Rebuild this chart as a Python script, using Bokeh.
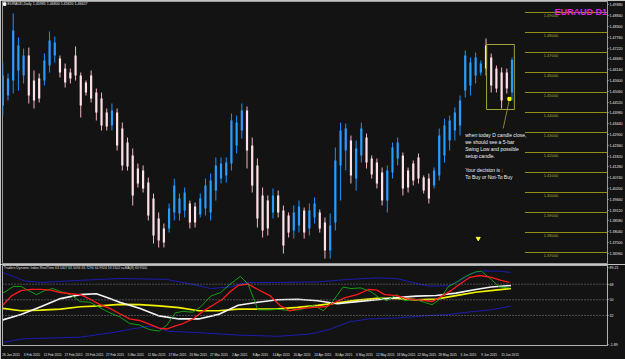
from bokeh.plotting import figure
from bokeh.models import Range1d, ColumnDataSource, FixedTicker, PrintfTickFormatter, Span, Label
from bokeh.layouts import column
from bokeh.embed import file_html
from bokeh.resources import INLINE
from bokeh.core.properties import value

BG = "#131313"
FONT = "Liberation Sans"

# ---------------- data (EURAUD daily) ----------------
opens = [1.4435, 1.4485, 1.4560, 1.4610, 1.4585, 1.4685, 1.4560, 1.4570, 1.4560, 1.4635,
         1.4685, 1.4670, 1.4620, 1.4600, 1.4685, 1.4585, 1.4550, 1.4585, 1.4500, 1.4470,
         1.4400, 1.4335, 1.4400, 1.4320, 1.4250, 1.4185, 1.4120, 1.4110, 1.4050, 1.3970,
         1.3870, 1.3820, 1.3820, 1.3900, 1.3895, 1.3910, 1.3945, 1.3930, 1.3890, 1.3920,
         1.3900, 1.4010, 1.4070, 1.4085, 1.4145, 1.4235, 1.4310, 1.4410, 1.4235, 1.4135,
         1.3985, 1.3960, 1.3900, 1.3985, 1.3910, 1.3885, 1.3810, 1.3835, 1.3910, 1.3820,
         1.3875, 1.3900, 1.3850, 1.3710, 1.3850, 1.4135, 1.4210, 1.4260, 1.4070, 1.4185,
         1.4275, 1.4170, 1.4150, 1.4100, 1.3960, 1.4100, 1.4170, 1.4185, 1.4110, 1.4145,
         1.4175, 1.4075, 1.4070, 1.4035, 1.4085, 1.4185, 1.4260, 1.4310, 1.4335, 1.4510,
         1.4535, 1.4585, 1.4600, 1.4735, 1.4675, 1.4620, 1.4600, 1.4600, 1.4500]
highs = [1.4650, 1.4595, 1.4895, 1.4775, 1.4720, 1.4725, 1.4610, 1.4595, 1.4695, 1.4805,
         1.4780, 1.4685, 1.4645, 1.4620, 1.4730, 1.4600, 1.4560, 1.4610, 1.4520, 1.4500,
         1.4420, 1.4445, 1.4420, 1.4350, 1.4275, 1.4220, 1.4145, 1.4135, 1.4075, 1.3995,
         1.3900, 1.3845, 1.3945, 1.4070, 1.3995, 1.4025, 1.3960, 1.3950, 1.3995, 1.4070,
         1.4095, 1.4175, 1.4175, 1.4175, 1.4395, 1.4385, 1.4445, 1.4430, 1.4275, 1.4170,
         1.4025, 1.3985, 1.4020, 1.4010, 1.3935, 1.3900, 1.3935, 1.3960, 1.3925, 1.3945,
         1.3975, 1.3915, 1.3875, 1.3895, 1.4225, 1.4350, 1.4345, 1.4285, 1.4260, 1.4350,
         1.4295, 1.4185, 1.4170, 1.4125, 1.4135, 1.4250, 1.4275, 1.4200, 1.4125, 1.4160,
         1.4195, 1.4085, 1.4095, 1.4125, 1.4320, 1.4370, 1.4385, 1.4425, 1.4485, 1.4710,
         1.4675, 1.4700, 1.4660, 1.4770, 1.4695, 1.4635, 1.4625, 1.4620, 1.4675]
lows = [1.4385, 1.4460, 1.4495, 1.4510, 1.4545, 1.4445, 1.4420, 1.4450, 1.4535, 1.4600,
        1.4650, 1.4575, 1.4525, 1.4545, 1.4560, 1.4375, 1.4485, 1.4450, 1.4360, 1.4310,
        1.4310, 1.4310, 1.4210, 1.4110, 1.4110, 1.3935, 1.4025, 1.4000, 1.3860, 1.3745,
        1.3725, 1.3725, 1.3800, 1.3860, 1.3860, 1.3875, 1.3820, 1.3825, 1.3875, 1.3885,
        1.3860, 1.3960, 1.4045, 1.4050, 1.4110, 1.4195, 1.4270, 1.4120, 1.4000, 1.3825,
        1.3775, 1.3785, 1.3870, 1.3875, 1.3695, 1.3775, 1.3770, 1.3800, 1.3770, 1.3785,
        1.3845, 1.3800, 1.3670, 1.3670, 1.3810, 1.3960, 1.4110, 1.4045, 1.4010, 1.4150,
        1.4120, 1.4070, 1.4020, 1.3935, 1.3900, 1.4070, 1.4135, 1.3985, 1.4000, 1.4035,
        1.4045, 1.3995, 1.3945, 1.4020, 1.4060, 1.4150, 1.4210, 1.4260, 1.4285, 1.4475,
        1.4485, 1.4545, 1.4585, 1.4585, 1.4500, 1.4500, 1.4420, 1.4495, 1.4460]
closes = [1.4585, 1.4570, 1.4810, 1.4735, 1.4685, 1.4485, 1.4460, 1.4470, 1.4660, 1.4760,
          1.4750, 1.4600, 1.4550, 1.4570, 1.4585, 1.4435, 1.4500, 1.4470, 1.4400, 1.4335,
          1.4330, 1.4410, 1.4235, 1.4135, 1.4130, 1.3985, 1.4045, 1.4020, 1.3885, 1.3785,
          1.3760, 1.3750, 1.3920, 1.4035, 1.3970, 1.4000, 1.3850, 1.3850, 1.3970, 1.4035,
          1.4060, 1.4135, 1.4145, 1.4150, 1.4360, 1.4350, 1.4410, 1.4210, 1.4035, 1.3870,
          1.3810, 1.3820, 1.3985, 1.3900, 1.3735, 1.3800, 1.3900, 1.3930, 1.3800, 1.3910,
          1.3945, 1.3820, 1.3710, 1.3835, 1.4160, 1.4310, 1.4320, 1.4085, 1.4220, 1.4320,
          1.4150, 1.4090, 1.4045, 1.3960, 1.4110, 1.4225, 1.4250, 1.4020, 1.4025, 1.4060,
          1.4070, 1.4010, 1.3970, 1.4110, 1.4285, 1.4335, 1.4360, 1.4400, 1.4460, 1.4685,
          1.4650, 1.4675, 1.4645, 1.4620, 1.4535, 1.4520, 1.4460, 1.4520, 1.4662]

date_labels = ["26 Jan 2015", "3 Feb 2015", "11 Feb 2015", "17 Feb 2015", "23 Feb 2015",
               "27 Feb 2015", "5 Mar 2015", "11 Mar 2015", "17 Mar 2015", "23 Mar 2015",
               "27 Mar 2015", "2 Apr 2015", "8 Apr 2015", "14 Apr 2015", "20 Apr 2015",
               "24 Apr 2015", "30 Apr 2015", "6 May 2015", "12 May 2015", "18 May 2015",
               "22 May 2015", "28 May 2015", "3 Jun 2015", "9 Jun 2015", "15 Jun 2015"]
bars_per_label = 4

price_ticks = [1.36960, 1.37500, 1.38040, 1.38580, 1.39120, 1.39660, 1.40200, 1.40740,
               1.41280, 1.41820, 1.42360, 1.42900, 1.43440, 1.43980, 1.44520, 1.45060,
               1.45600, 1.46140, 1.46680, 1.47220, 1.47760, 1.48300, 1.48840, 1.49380]
level_prices = [1.49, 1.48, 1.47, 1.46, 1.45, 1.44, 1.43, 1.42, 1.41, 1.40, 1.39, 1.38, 1.37]
last_price = 1.46627
header = "EURAUD,Daily  1.45985 1.46800 1.45820 1.46627"

note_lines = ["when today D candle close,", "we should see a 5-bar", "Swing Low and possible",
              "setup candle.", "", "Your decision is :", "To Buy or Not-To Buy"]

# Traders Dynamic Index lines (bar index, value)
green_x = [0, 1, 2, 3.5, 5, 6.5, 8, 9.6, 11.1, 13, 14.9, 16.8, 18.7, 20.6, 22.5, 24.4, 26.3, 28.2,
           30.1, 31.6, 33.2, 34.7, 36.6, 38.1, 40, 41.9, 43.8, 45.7, 47.2, 49.1, 51.4, 53.3, 55.2,
           57.5, 59.8, 61.7, 63.6, 65.5, 67, 68.9, 70.8, 72.4, 73.9, 75.8, 77.3, 79.2, 81.1, 82.6,
           84.1, 85.7, 87.2, 89.1, 91, 92.1, 94, 95.6, 97.5]
green_v = [57.7, 61.2, 65.4, 65.4, 60.5, 56, 60.5, 63, 59.5, 56, 47.9, 47.2, 40.9, 35, 30.4, 22.7,
           21, 15.7, 14, 21, 35, 36.7, 35.7, 42, 54.2, 58.4, 68.2, 77, 68.2, 38.5, 38.5, 39, 37.4,
           39, 43.7, 37.4, 49, 64.7, 63, 63.7, 59.5, 52.5, 49, 56, 49, 50.7, 47.2, 44.4, 50.7, 64.7,
           70, 77, 82.2, 82.9, 73.5, 64.7, 63.7]
red_x = [0, 1.6, 3.5, 5.4, 7.3, 9.2, 11.1, 13, 14.9, 16.8, 18.7, 20.6, 22.5, 24.4, 26.3, 28.2,
         30.1, 31.6, 33.2, 34.7, 36.6, 38.5, 40.4, 42.3, 43.8, 45.3, 47.2, 49.1, 51.4, 53.3, 55.2,
         57.5, 59.8, 62.1, 64, 65.9, 68.2, 70.4, 72, 73.5, 75.8, 78, 80.3, 82.6, 84.5, 86.4, 88,
         89.9, 91.8, 94, 95.9, 97.5]
red_v = [43.7, 54.2, 60.5, 61.9, 61.9, 61.2, 58.4, 57, 56, 50.7, 44.4, 40.2, 33.9, 28, 26.2, 22,
         17.4, 16.4, 19.9, 22.7, 28, 36.7, 43.7, 50.7, 59.5, 66.5, 68.2, 61.9, 54.9, 43.7, 37.4,
         40.2, 41.2, 42, 47.2, 52.5, 56, 61.9, 61.2, 56, 54.9, 50.7, 50, 47.9, 54.2, 61.2, 68.2,
         75.9, 78, 75.9, 72.4, 70]
yellow_x = [0, 3.5, 7.3, 11.1, 14.9, 18.7, 22.5, 26.3, 30.1, 33.9, 37.7, 41.5, 45.3, 49.1, 52.9,
            56.7, 60.6, 64.4, 68.2, 72, 75.8, 79.6, 83.4, 87.2, 91, 94.8, 97.8]
yellow_v = [40.2, 37.4, 38.1, 39.2, 42, 43, 44.8, 44.4, 43, 40.9, 37.4, 37.4, 39.2, 39.2, 39.5,
            41.2, 43.7, 46.5, 49.7, 51.7, 51.7, 50, 50.7, 54.9, 58.7, 61.2, 63]
white_x = [0, 3.5, 7.3, 11.1, 14.9, 18, 20.2, 22.5, 26.3, 30.1, 33.9, 37.7, 41.5, 45.3, 49.1,
           52.9, 56.7, 60.6, 64.4, 68.2, 72, 75.8, 79.6, 83.4, 87.2, 91, 94, 97.8]
white_v = [26.9, 33.2, 42, 51.4, 56, 57, 52.5, 47.2, 40.2, 31.5, 28, 28, 33.2, 43.7, 47.2, 50,
           50.7, 49, 45.5, 47.9, 50, 52.5, 54.2, 54.9, 57.7, 61.9, 64.7, 66.5]
upper_x = [0, 4.2, 7.3, 14.9, 22.5, 31.6, 32.4, 36.2, 40, 43.8, 46.8, 52.9, 60.6, 66.6, 72, 75.8,
           78.8, 81.9, 85.7, 88, 90.2, 92.5, 95.6, 97.8]
upper_v = [81.5, 71.7, 70, 72.4, 74.5, 73.5, 72.4, 68.2, 63, 64.7, 70, 70, 70.6, 73.5, 75.2, 74.5,
           70, 65.8, 66.1, 71.7, 80.5, 83.3, 82.9, 81.5]
lower_x = [0, 4.2, 14.9, 21, 24.8, 28.6, 31.6, 37.7, 45.3, 52.9, 59, 62.8, 66.6, 70.4, 75.8, 81.1,
           85.7, 91, 94, 97.8]
lower_v = [1, 5.2, 7, 12.2, 16.4, 19.9, 14, 12.2, 9.4, 8, 10.5, 15.7, 24.5, 28, 29, 31.5, 33.2,
           36.7, 38.5, 42.7]
tdi_levels = [68, 50, 32]
tdi_title = "Traders Dynamic Index RealTime 63.5407 63.5094 63.7294 64.9924 59.3102  x=MA(8) 63.9500"

# ---------------- price panel ----------------
n = len(opens)
idx = list(range(n))
up = [c >= o for o, c in zip(opens, closes)]
src = ColumnDataSource(dict(
    x=idx, h=highs, l=lows,
    top=[max(o, c) for o, c in zip(opens, closes)],
    bot=[min(o, c) for o, c in zip(opens, closes)],
    wick=["#1e90ff" if u else "#f4b6c2" for u in up],
    body=["#2a9bff" if u else "#ffe2e8" for u in up],
))

X_START, X_END = -0.06, 116.38
xr = Range1d(X_START, X_END)

p = figure(width=625, height=264, x_range=xr, y_range=Range1d(1.3645, 1.4955),
           output_backend="svg", toolbar_location=None, x_axis_location=None,
           y_axis_location="right", min_border_left=2, min_border_right=14,
           min_border_top=1, min_border_bottom=1, background_fill_color=BG,
           border_fill_color=BG, outline_line_color="#9a9a9a")
p.grid.visible = False
ya = p.yaxis[0]
ya.ticker = FixedTicker(ticks=price_ticks)
ya.formatter = PrintfTickFormatter(format="%.5f")
ya.major_label_text_font_size = "3.6px"
ya.major_label_text_font = FONT
ya.major_label_text_color = "#e6e6e6"
ya.major_tick_out = 1
ya.major_tick_in = 0
ya.minor_tick_line_color = None
ya.major_tick_line_color = "#bbbbbb"
ya.axis_line_color = "#9a9a9a"
ya.major_label_standoff = 1

# horizontal level lines with labels
lvl_x0 = 100.5
p.segment(x0=[lvl_x0] * len(level_prices), y0=level_prices, x1=[X_END] * len(level_prices),
          y1=level_prices, line_color="#8f8f12", line_width=1)
p.text(x=[104.1] * len(level_prices), y=level_prices, text=["%.5f" % v for v in level_prices],
       text_font=value(FONT), text_font_size="4px", text_color="#a8a830",
       text_baseline="top", y_offset=1)

# candles
p.segment(x0="x", y0="l", x1="x", y1="h", line_color="wick", line_width=1, source=src)
p.vbar(x="x", width=0.42, top="top", bottom="bot", fill_color="body", line_color=None, source=src)

# box around last five bars
b0, b1 = n - 5, n - 1
box_top = max(highs[b0:]) + 0.0045
box_bot = min(lows[b0:]) - 0.0005
p.quad(left=[b0 - 0.9], right=[b1 + 0.45], top=[box_top], bottom=[box_bot],
       fill_color=None, line_color="#a3a33a", line_width=1)

# pointer from note to box
p.line(x=[b1 - 0.5, b1 - 1.7], y=[box_bot + 0.0050, 1.4320], line_color="#a3a33a", line_width=0.8)
p.scatter(x=[b1 - 0.5], y=[box_bot + 0.0053], marker="square", size=3, color="#ffff00")
p.scatter(x=[91.5], y=[1.3770], marker="inverted_triangle", size=4, color="#ffff33")

# annotation text
p.text(x=[89.0], y=[1.4305], text=["\n".join(note_lines)], text_font=value(FONT),
       text_font_size="5px", text_color="#f0f0f0", text_baseline="top", text_line_height=1.18)

# titles
p.text(x=[116.3], y=[1.4926], text=["EURAUD D1"], text_font=value(FONT), text_font_size="9px",
       text_font_style="bold", text_color="#e020e0", text_align="right", text_baseline="top")
p.scatter(x=[0.35], y=[1.4942], marker="square", size=2.5, color="#ffffff")
p.text(x=[0.9], y=[1.4942], text=[header], text_font=value(FONT), text_font_size="3.6px",
       text_color="#e0e0e0", text_baseline="middle")

p.add_layout(Label(x=X_END, y=last_price, x_offset=1, text="%.5f" % last_price,
                   text_font=FONT, text_font_size="3.6px", text_color="#000000",
                   background_fill_color="#ffffff", text_baseline="middle"))

# ---------------- indicator panel ----------------
q = figure(width=625, height=95, x_range=xr, y_range=Range1d(-2.6, 89.5),
           output_backend="svg", toolbar_location=None, y_axis_location="right",
           min_border_left=2, min_border_right=14, min_border_top=1, min_border_bottom=7,
           background_fill_color=BG, border_fill_color=BG, outline_line_color="#b0b0b0")
q.grid.visible = False

for lv in tdi_levels:
    q.add_layout(Span(location=lv, dimension="width", line_color="#8a8a8a",
                      line_dash="1 2", line_width=1))

q.line(upper_x, upper_v, line_color="#1c1cb0", line_width=1)
q.line(lower_x, lower_v, line_color="#1c1cb0", line_width=1)
q.line(yellow_x, yellow_v, line_color="#f2f200", line_width=1.7)
q.line(white_x, white_v, line_color="#f4f4f4", line_width=1.6)
q.line(green_x, green_v, line_color="#12a012", line_width=1)
q.line(red_x, red_v, line_color="#ff1a1a", line_width=1.3)

q.text(x=[0.2], y=[86.4], text=[tdi_title], text_font=value(FONT), text_font_size="3.4px",
       text_color="#dddddd", text_baseline="middle")

qy = q.yaxis[0]
qy.ticker = FixedTicker(ticks=[-1.2] + tdi_levels + [87.4])
qy.major_label_overrides = {-1.2: "-1.89", 68: "68", 50: "50", 32: "32", 87.4: "89.21"}
qy.major_label_text_font_size = "3.6px"
qy.major_label_text_font = FONT
qy.major_label_text_color = "#e6e6e6"
qy.major_tick_out = 1
qy.major_tick_in = 0
qy.minor_tick_line_color = None
qy.major_tick_line_color = "#bbbbbb"
qy.axis_line_color = "#b0b0b0"
qy.major_label_standoff = 1

qx = q.xaxis[0]
tick_pos = [bars_per_label * k + 1.6 for k in range(len(date_labels))]
qx.ticker = FixedTicker(ticks=tick_pos)
qx.major_label_overrides = {t: lab for t, lab in zip(tick_pos, date_labels)}
qx.major_label_text_font_size = "3.2px"
qx.major_label_text_font = FONT
qx.major_label_text_color = "#e0e0e0"
qx.major_tick_line_color = None
qx.minor_tick_line_color = None
qx.axis_line_color = "#b0b0b0"
qx.major_label_standoff = 1

layout = column(p, q, spacing=0)
open("out.html", "w").write(file_html(layout, INLINE))
